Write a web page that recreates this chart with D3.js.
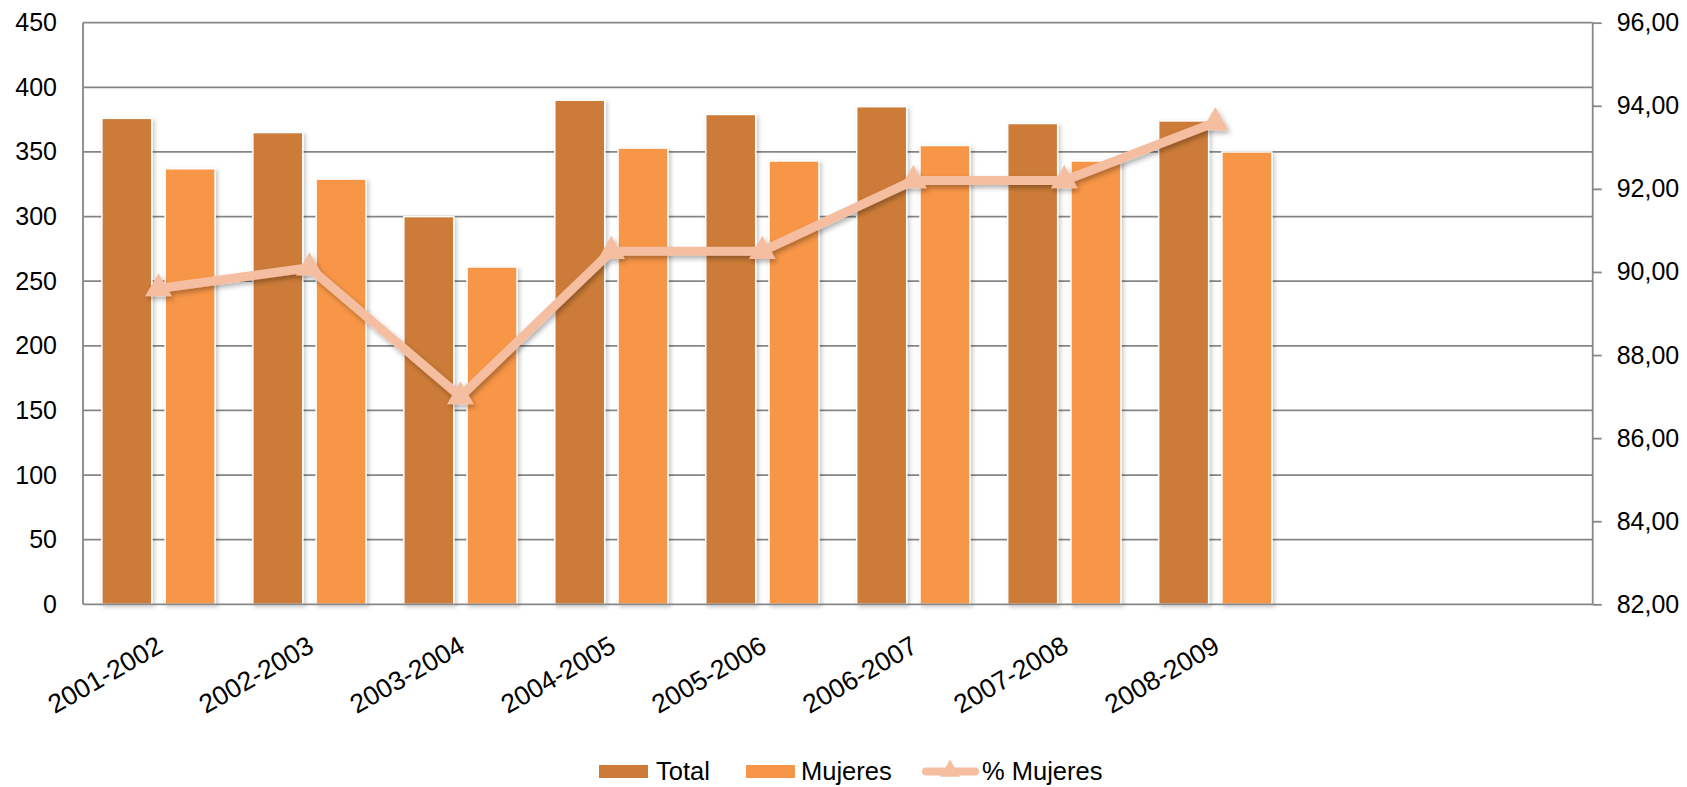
<!DOCTYPE html>
<html lang="es">
<head>
<meta charset="utf-8"/>
<style>
    body { margin: 0; background: #fff; }
    svg { display: block; font-family: "Liberation Sans", Arial, sans-serif; }
    .grid line { stroke: #868686; stroke-width: 1.8px; }
    .axis path, .axis line { stroke: #868686; stroke-width: 1.8px; fill: none; }
    .axis text { fill: #000; font-size: 25px; }
    .xlab text { fill: #000; font-size: 26.5px; }
    rect.bar { stroke: #fff; stroke-width: 1.5px; }
    path.pct { stroke: #f5bea0; stroke-width: 9px; fill: none; stroke-linejoin: round; stroke-linecap: round; }
    .legend text { font-size: 25.5px; fill: #000; }
</style>
<script src="https://cdn.jsdelivr.net/npm/d3@7"></script>
</head>
<body>
<svg id="chart" width="1687" height="787"></svg>
<script>
    // categories (the last two slots are empty in the original chart)
    var cursos = ['2001-2002', '2002-2003', '2003-2004', '2004-2005', '2005-2006',
                  '2006-2007', '2007-2008', '2008-2009'];
    var slots = cursos.concat(['', ' ']);
    var total   = [376, 365, 300, 390, 379, 385, 372, 374];
    var mujeres = [337, 329, 261, 353, 343, 355, 343, 350];
    var pctMujeres = [89.6, 90.1, 87.0, 90.5, 90.5, 92.2, 92.2, 93.6];
    var leftTicks = [0, 50, 100, 150, 200, 250, 300, 350, 400, 450];
    var rightTicks = [82, 84, 86, 88, 90, 92, 94, 96];

    var colTotal = '#cc7b38', colMuj = '#f79646', colPct = '#f5bea0';

    var plotL = 83, plotR = 1592.7, plotT = 22.7, plotB = 604.3;
    var svg = d3.select('#chart');

    var defs = svg.append('defs');
    var f = defs.append('filter').attr('id', 'shadow')
        .attr('x', '-20%').attr('y', '-20%').attr('width', '140%').attr('height', '140%');
    f.append('feDropShadow').attr('dx', 2).attr('dy', 2).attr('stdDeviation', 2)
        .attr('flood-color', '#000').attr('flood-opacity', 0.22);
    var f2 = defs.append('filter').attr('id', 'lshadow')
        .attr('x', '-20%').attr('y', '-20%').attr('width', '140%').attr('height', '140%');
    f2.append('feDropShadow').attr('dx', 2).attr('dy', 3).attr('stdDeviation', 2.5)
        .attr('flood-color', '#000').attr('flood-opacity', 0.3);

    var x = d3.scaleBand().domain(slots).range([plotL, plotR]).padding(0);
    var bw = x.bandwidth() * 0.331, gap = x.bandwidth() * 0.088;
    var y = d3.scaleLinear().domain([0, 450]).range([plotB, plotT]);
    var y2 = d3.scaleLinear().domain([82, 96]).range([plotB, plotT]);
    var fmt = d3.formatLocale({decimal: ',', thousands: '.', grouping: [3], currency: ['', '€']}).format('.2f');

    // gridlines
    svg.append('g').attr('class', 'grid')
        .selectAll('line').data(leftTicks.slice(1)).enter().append('line')
        .attr('x1', plotL).attr('x2', plotR)
        .attr('y1', function(d) { return y(d); }).attr('y2', function(d) { return y(d); });

    // left axis
    var ax = svg.append('g').attr('class', 'axis')
        .attr('transform', 'translate(' + plotL + ',0)')
        .call(d3.axisLeft(y).tickValues(leftTicks).tickSize(0).tickPadding(26));
    ax.select('.domain').attr('d', 'M0,' + plotT + 'V' + plotB);

    // right axis
    var ax2 = svg.append('g').attr('class', 'axis')
        .attr('transform', 'translate(' + plotR + ',0)')
        .call(d3.axisRight(y2).tickValues(rightTicks).tickSize(9).tickPadding(15).tickFormat(fmt));
    ax2.select('.domain').attr('d', 'M0,' + plotT + 'V' + plotB);

    // bars
    var groups = svg.append('g').selectAll('g').data(cursos).enter().append('g');
    groups.append('rect').attr('class', 'bar')
        .attr('x', function(d) { return x(d) + x.bandwidth() / 2 - gap / 2 - bw; })
        .attr('width', bw)
        .attr('y', function(d, i) { return y(total[i]); })
        .attr('height', function(d, i) { return y(0) - y(total[i]); })
        .attr('fill', colTotal).attr('filter', 'url(#shadow)');
    groups.append('rect').attr('class', 'bar')
        .attr('x', function(d) { return x(d) + x.bandwidth() / 2 + gap / 2; })
        .attr('width', bw)
        .attr('y', function(d, i) { return y(mujeres[i]); })
        .attr('height', function(d, i) { return y(0) - y(mujeres[i]); })
        .attr('fill', colMuj).attr('filter', 'url(#shadow)');

    // x axis line
    svg.append('line').attr('x1', plotL).attr('x2', plotR)
        .attr('y1', plotB).attr('y2', plotB)
        .attr('stroke', '#868686').attr('stroke-width', 1.8);

    // x labels
    svg.append('g').attr('class', 'xlab').selectAll('text').data(cursos).enter().append('text')
        .attr('text-anchor', 'end')
        .attr('transform', function(d) {
            return 'translate(' + (x(d) + x.bandwidth() / 2 + 6) + ',651) rotate(-30)';
        })
        .text(function(d) { return d; });

    // % line
    var cx = function(d, i) { return x(cursos[i]) + x.bandwidth() / 2; };
    var line = d3.line().x(cx).y(function(d) { return y2(d); });
    var lg = svg.append('g').attr('filter', 'url(#lshadow)');
    lg.append('path').attr('class', 'pct').attr('d', line(pctMujeres));
    var tri = d3.symbol().type(d3.symbolTriangle).size(310);
    lg.selectAll('path.m').data(pctMujeres).enter().append('path').attr('class', 'm')
        .attr('d', tri)
        .attr('transform', function(d, i) { return 'translate(' + cx(d, i) + ',' + y2(d) + ')'; })
        .attr('fill', colPct);

    // legend
    var leg = svg.append('g').attr('class', 'legend');
    leg.append('rect').attr('x', 599).attr('y', 765).attr('width', 49).attr('height', 13).attr('fill', colTotal);
    leg.append('text').attr('x', 656).attr('y', 780).text('Total');
    leg.append('rect').attr('x', 746).attr('y', 765).attr('width', 49).attr('height', 13).attr('fill', colMuj);
    leg.append('text').attr('x', 801).attr('y', 780).text('Mujeres');
    leg.append('line').attr('x1', 926).attr('x2', 975).attr('y1', 771.5).attr('y2', 771.5)
        .attr('stroke', colPct).attr('stroke-width', 8).attr('stroke-linecap', 'round');
    leg.append('path').attr('d', d3.symbol().type(d3.symbolTriangle).size(170))
        .attr('transform', 'translate(950,771)').attr('fill', colPct);
    leg.append('text').attr('x', 982).attr('y', 780).text('% Mujeres');
</script>
</body>
</html>
